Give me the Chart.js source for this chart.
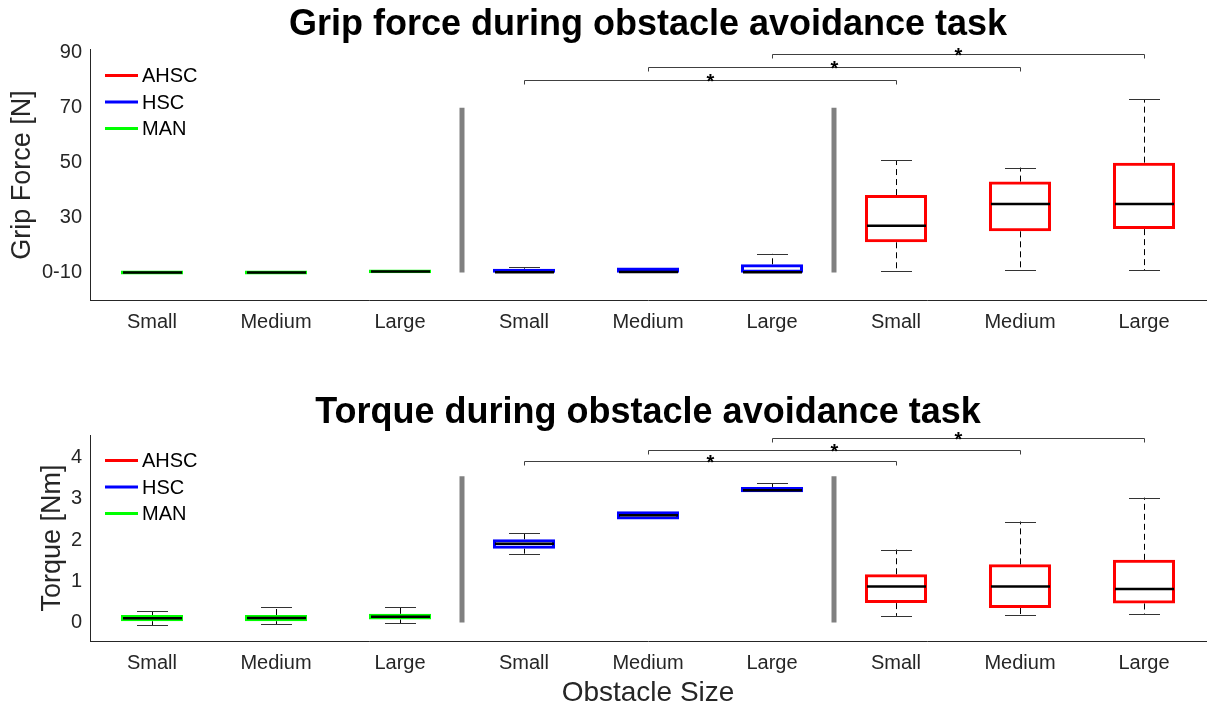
<!DOCTYPE html>
<html>
<head>
<meta charset="utf-8">
<script src="https://cdn.jsdelivr.net/npm/chart.js@4.4.0/dist/chart.umd.min.js"></script>
<style>
    html, body { margin: 0; padding: 0; background: #fff; }
    #wrap { position: relative; width: 1208px; height: 711px; overflow: hidden; }
    .panel { position: absolute; left: 0; width: 1208px; }
</style>
</head>
<body>
<div id="wrap">
    <div class="panel" style="top:0;height:345px"><canvas id="grip-chart"></canvas></div>
    <div class="panel" style="top:380px;height:331px"><canvas id="torque-chart"></canvas></div>
</div>
<script>
// Categories: three obstacle sizes for each controller, left to right MAN, HSC, AHSC
const sizes = ['Small', 'Medium', 'Large'];
const categories = sizes.concat(sizes, sizes);
const groupNames = ['MAN', 'HSC', 'AHSC'];
const groupColors = ['#00ff00', '#0000ff', '#ff0000'];
const legendNames = ['AHSC', 'HSC', 'MAN'];
const legendColors = ['#ff0000', '#0000ff', '#00ff00'];

// Grip force [N]
const gripMin = [9.3, 9.3, 9.7, 9.9, 9.9, 9.9, 10.4, 11.0, 10.9];
const gripQ1  = [9.3, 9.3, 9.7, 9.9, 9.9, 9.9, 21.0, 25.0, 25.8];
const gripMed = [10.0, 10.0, 10.4, 10.1, 10.2, 10.1, 27.0, 34.9, 34.9];
const gripQ3  = [10.75, 10.75, 11.1, 11.4, 11.8, 13.0, 38.2, 43.1, 50.0];
const gripMax = [10.75, 10.75, 11.1, 11.9, 11.8, 16.8, 50.9, 48.2, 73.0];
const gripTicks = [10, 30, 50, 70, 90];
const gripTickLabels = ['0-10', '30', '50', '70', '90'];
const gripBrackets = [[3, 6, 80.0], [4, 7, 84.8], [5, 8, 89.6]];
const gripSeparator = [10, 70];

// Torque [Nm]
const torqueMin = [-0.07, -0.04, -0.02, 1.67, 2.48, 3.15, 0.16, 0.17, 0.20];
const torqueQ1  = [0.03, 0.03, 0.07, 1.79, 2.50, 3.16, 0.47, 0.35, 0.46];
const torqueMed = [0.10, 0.11, 0.14, 1.91, 2.60, 3.21, 0.87, 0.87, 0.81];
const torqueQ3  = [0.18, 0.18, 0.21, 2.02, 2.70, 3.29, 1.17, 1.41, 1.52];
const torqueMax = [0.27, 0.37, 0.37, 2.17, 2.72, 3.38, 1.77, 2.45, 3.03];
const torqueTicks = [0, 1, 2, 3, 4];
const torqueTickLabels = ['0', '1', '2', '3', '4'];
const torqueBrackets = [[3, 6, 3.92], [4, 7, 4.19], [5, 8, 4.48]];
const torqueSeparator = [0, 3.55];

const FONT = "'Liberation Sans', Arial, Helvetica, sans-serif";
const AXIS_COLOR = '#262626';
Chart.defaults.font.family = FONT;

// Whiskers, medians, group separators, significance brackets and the legend
const boxExtras = {
    id: 'boxExtras',
    afterDatasetsDraw(chart, args, o) {
        const { ctx, chartArea: area, scales: { x, y } } = chart;
        const step = x.getPixelForValue(1) - x.getPixelForValue(0);
        const w = step * 0.5;
        const line = (x0, y0, x1, y1) => {
            ctx.beginPath();
            ctx.moveTo(x0, y0);
            ctx.lineTo(x1, y1);
            ctx.stroke();
        };
        ctx.save();

        // gray separators between controllers
        ctx.strokeStyle = '#808080';
        ctx.lineWidth = 5;
        [3, 6].forEach(k => {
            const px = (x.getPixelForValue(k - 1) + x.getPixelForValue(k)) / 2;
            line(px, y.getPixelForValue(o.sep[0]), px, y.getPixelForValue(o.sep[1]));
        });

        for (let i = 0; i < categories.length; i++) {
            const cx = Math.round(x.getPixelForValue(i)) + 0.5;
            const yMin = y.getPixelForValue(o.min[i]);
            const yQ1 = y.getPixelForValue(o.q1[i]);
            const yQ3 = y.getPixelForValue(o.q3[i]);
            const yMax = y.getPixelForValue(o.max[i]);
            ctx.lineWidth = 1;
            if (yQ3 - yMax > 1) {
                ctx.strokeStyle = '#000';
                ctx.setLineDash([6, 4]);
                line(cx, yQ3, cx, yMax);
                ctx.setLineDash([]);
                ctx.strokeStyle = '#333';
                line(cx - w / 4, Math.round(yMax) + 0.5, cx + w / 4, Math.round(yMax) + 0.5);
            }
            if (yMin - yQ1 > 1) {
                ctx.strokeStyle = '#000';
                ctx.setLineDash([6, 4]);
                line(cx, yQ1, cx, yMin);
                ctx.setLineDash([]);
                ctx.strokeStyle = '#333';
                line(cx - w / 4, Math.round(yMin) + 0.5, cx + w / 4, Math.round(yMin) + 0.5);
            }
            // median
            ctx.strokeStyle = '#000';
            ctx.lineWidth = 2.5;
            const yMed = y.getPixelForValue(o.med[i]);
            line(cx - w / 2 + 1.5, yMed, cx + w / 2 - 1.5, yMed);
        }

        // significance brackets
        ctx.strokeStyle = '#404040';
        ctx.lineWidth = 1;
        ctx.fillStyle = '#000';
        ctx.font = 'bold 20px ' + FONT;
        ctx.textAlign = 'center';
        ctx.textBaseline = 'alphabetic';
        o.brackets.forEach(([a, b, v]) => {
            const xa = Math.round(x.getPixelForValue(a)) + 0.5;
            const xb = Math.round(x.getPixelForValue(b)) + 0.5;
            const yb = Math.round(y.getPixelForValue(v)) + 0.5;
            ctx.beginPath();
            ctx.moveTo(xa, yb + 4);
            ctx.lineTo(xa, yb);
            ctx.lineTo(xb, yb);
            ctx.lineTo(xb, yb + 4);
            ctx.stroke();
            ctx.fillText('*', (xa + xb) / 2, yb + 7);
        });

        // legend inside the axes
        ctx.font = '20px ' + FONT;
        ctx.textAlign = 'left';
        ctx.textBaseline = 'middle';
        ctx.lineWidth = 3;
        legendNames.forEach((name, k) => {
            const ly = area.top + 25.5 + k * 26.5;
            ctx.strokeStyle = legendColors[k];
            line(area.left + 15, ly, area.left + 48, ly);
            ctx.fillStyle = '#000';
            ctx.fillText(name, area.left + 52, ly + 1);
        });
        ctx.restore();
    }
};

function buildBoxChart(canvasId, cfg) {
    const datasets = groupNames.map((name, g) => ({
        label: name,
        data: categories.map((_, i) => Math.floor(i / 3) === g ? [cfg.q1[i], cfg.q3[i]] : null),
        borderColor: groupColors[g],
        backgroundColor: 'rgba(0, 0, 0, 0)',
        borderWidth: 3,
        borderSkipped: false,
        inflateAmount: 0,
        grouped: false,
        barPercentage: 0.5,
        categoryPercentage: 1
    }));

    return new Chart(document.getElementById(canvasId), {
        type: 'bar',
        data: { labels: categories, datasets: datasets },
        plugins: [boxExtras],
        options: {
            responsive: true,
            maintainAspectRatio: false,
            animation: false,
            events: [],
            layout: { padding: { left: 0, right: 2, top: 0, bottom: 0 } },
            plugins: {
                legend: { display: false },
                tooltip: { enabled: false },
                title: {
                    display: true,
                    text: cfg.title,
                    fullSize: false,
                    color: '#000',
                    font: { size: 36, weight: 'bold' },
                    padding: cfg.titlePadding
                },
                boxExtras: {
                    min: cfg.min, q1: cfg.q1, med: cfg.med, q3: cfg.q3, max: cfg.max,
                    brackets: cfg.brackets, sep: cfg.sep
                }
            },
            scales: {
                x: {
                    type: 'category',
                    afterFit: ax => { ax.height = cfg.xHeight; },
                    ticks: { color: AXIS_COLOR, font: { size: 20 }, padding: 10, maxRotation: 0, autoSkip: false },
                    grid: { display: false, drawTicks: false },
                    border: { display: true, color: AXIS_COLOR, width: 1 },
                    title: {
                        display: !!cfg.xTitle,
                        text: cfg.xTitle || '',
                        color: AXIS_COLOR,
                        font: { size: 28 },
                        padding: { top: 0, bottom: 1 }
                    }
                },
                y: {
                    min: cfg.yMin,
                    max: cfg.yMax,
                    afterBuildTicks: ax => { ax.ticks = cfg.ticks.map(v => ({ value: v })); },
                    afterFit: ax => { ax.width = 90; },
                    ticks: {
                        color: AXIS_COLOR,
                        font: { size: 20 },
                        padding: 8,
                        callback: (value, index) => cfg.tickLabels[index]
                    },
                    grid: { display: false, drawTicks: false },
                    border: { display: true, color: AXIS_COLOR, width: 1 },
                    title: {
                        display: true,
                        text: cfg.yTitle,
                        color: AXIS_COLOR,
                        font: { size: 27 },
                        padding: { top: cfg.yTitlePad, bottom: 0 }
                    }
                }
            }
        }
    });
}

buildBoxChart('grip-chart', {
    title: 'Grip force during obstacle avoidance task',
    titlePadding: { top: 3, bottom: 3.8 },
    yTitle: 'Grip Force [N]',
    yTitlePad: 6,
    yMin: 0, yMax: 91,
    ticks: gripTicks, tickLabels: gripTickLabels,
    min: gripMin, q1: gripQ1, med: gripMed, q3: gripQ3, max: gripMax,
    brackets: gripBrackets, sep: gripSeparator,
    xHeight: 45
});

buildBoxChart('torque-chart', {
    title: 'Torque during obstacle avoidance task',
    titlePadding: { top: 11, bottom: 0.8 },
    yTitle: 'Torque [Nm]',
    yTitlePad: 36,
    yMin: -0.45, yMax: 4.55,
    ticks: torqueTicks, tickLabels: torqueTickLabels,
    min: torqueMin, q1: torqueQ1, med: torqueMed, q3: torqueQ3, max: torqueMax,
    brackets: torqueBrackets, sep: torqueSeparator,
    xTitle: 'Obstacle Size',
    xHeight: 70
});
</script>
</body>
</html>
